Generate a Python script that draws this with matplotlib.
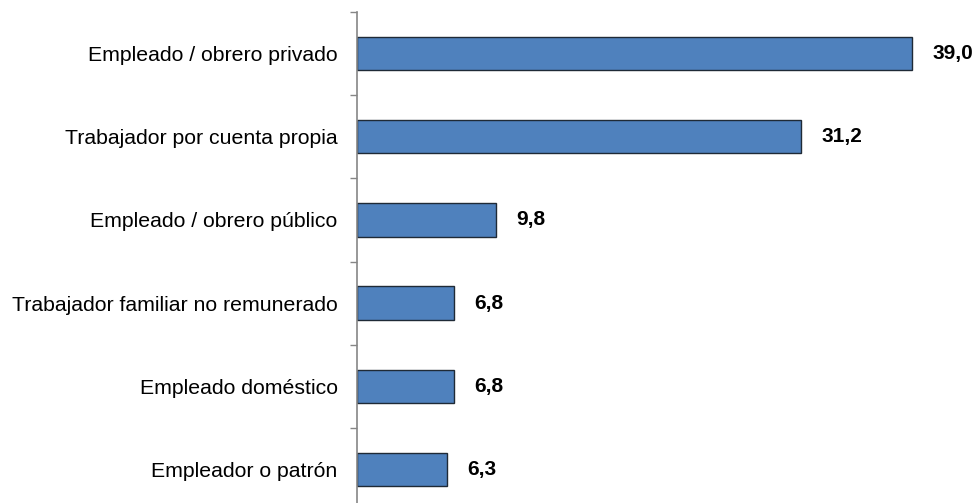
import matplotlib.pyplot as plt
import numpy as np

plt.rcParams['font.family'] = ['Liberation Sans', 'DejaVu Sans']

categorias = ["Empleado / obrero privado", "Trabajador por cuenta propia",
              "Empleado / obrero público", "Trabajador familiar no remunerado",
              "Empleado doméstico", "Empleador o patrón"]
valores = [39.0, 31.2, 9.8, 6.8, 6.8, 6.3]
etiquetas = ["39,0", "31,2", "9,8", "6,8", "6,8", "6,3"]

fig = plt.figure(figsize=(9.77, 5.03), dpi=100)
ax = fig.add_axes([357/977, 1 - 511/503, 620/977, 499/503])

y = np.arange(len(categorias))
ax.barh(y, valores, height=0.4, color='#4F81BD', edgecolor='#1F2A36', linewidth=1)
ax.set_ylim(len(categorias) - 0.5, -0.5)
ax.set_xlim(0, 620 / 14.23)

for yi, v, t in zip(y, valores, etiquetas):
    ax.annotate(t, (v, yi), xytext=(14.5, 0), textcoords='offset points',
                va='center', ha='left', fontsize=15, fontweight='bold')

ax.set_yticks(y)
ax.set_yticklabels(categorias, fontsize=15.3)
ax.set_yticks(np.arange(len(categorias) + 1) - 0.5, minor=True)
ax.tick_params(axis='y', which='major', length=0, pad=14)
ax.tick_params(axis='y', which='minor', length=5, width=1, color='#868686', direction='out')
ax.set_xticks([])
for s in ['top', 'right', 'bottom']:
    ax.spines[s].set_visible(False)
ax.spines['left'].set_color('#868686')
ax.spines['left'].set_linewidth(1.2)

fig.savefig('out.png', dpi=100)
